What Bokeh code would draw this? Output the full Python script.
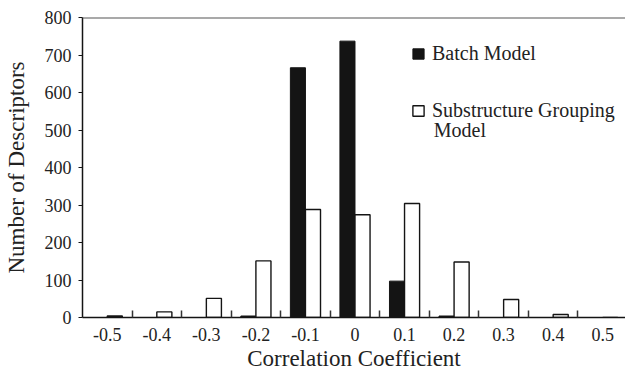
import numpy as np
from bokeh.plotting import figure
from bokeh.models import (ColumnDataSource, Range1d, FixedTicker, Legend, LegendItem,
                          Span, Label)
from bokeh.transform import dodge
from bokeh.embed import file_html
from bokeh.resources import INLINE

# ---- data ----
coefficients = [-0.5, -0.4, -0.3, -0.2, -0.1, 0.0, 0.1, 0.2, 0.3, 0.4, 0.5]
tick_labels = ["-0.5", "-0.4", "-0.3", "-0.2", "-0.1", "0", "0.1", "0.2", "0.3", "0.4", "0.5"]
batch_model = [0, 0, 0, 4, 666, 737, 97, 4, 0, 0, 0]
substructure_model = [4, 15, 51, 151, 288, 274, 304, 148, 48, 8, 0]
y_ticks = [0, 100, 200, 300, 400, 500, 600, 700, 800]

FONT = "Liberation Serif"
INK = "#141414"

src = ColumnDataSource(dict(x=coefficients, batch=batch_model, sub=substructure_model))

p = figure(width=625, height=373, output_backend="svg", toolbar_location=None,
           x_range=Range1d(-0.55, 0.546), y_range=Range1d(0, 800),
           min_border_left=77, min_border_right=0, min_border_top=17, min_border_bottom=55)
p.outline_line_color = None
p.grid.visible = False
p.background_fill_color = "white"
p.border_fill_color = "white"

bar_w = 0.0304
r_batch = p.vbar(x=dodge("x", -bar_w / 2, range=p.x_range), top="batch", width=bar_w, source=src,
                 fill_color=INK, line_color=INK, line_width=1)
r_sub = p.vbar(x=dodge("x", bar_w / 2, range=p.x_range), top="sub", width=bar_w, source=src,
               fill_color="white", line_color=INK, line_width=1.4)

p.add_layout(Span(location=y_ticks[-1], dimension="width", line_color="#555555", line_width=2))

c = np.array(coefficients)
boundaries = list(np.round(np.concatenate([(c[:-1] + c[1:]) / 2, [c[-1] + (c[-1] - c[-2]) / 2]]), 3))
xa = p.xaxis[0]
xa.ticker = FixedTicker(ticks=coefficients, minor_ticks=boundaries)
xa.major_label_overrides = {v: t for v, t in zip(coefficients, tick_labels)}
xa.major_tick_in = 0
xa.major_tick_out = 0
xa.minor_tick_in = 7
xa.minor_tick_out = 0
xa.minor_tick_line_color = "#333333"
xa.minor_tick_line_width = 1.5
xa.axis_line_color = INK
xa.axis_line_width = 1.5
xa.major_label_text_font = FONT
xa.major_label_text_font_size = "18px"
xa.major_label_text_color = "#222222"
xa.major_label_standoff = 10
xa.axis_label = "Correlation Coefficient"
xa.axis_label_text_font = FONT
xa.axis_label_text_font_size = "23px"
xa.axis_label_text_font_style = "normal"
xa.axis_label_text_color = "#222222"
xa.axis_label_standoff = 2

ya = p.yaxis[0]
ya.ticker = FixedTicker(ticks=y_ticks)
ya.major_tick_in = 0
ya.major_tick_out = 4
ya.minor_tick_line_color = None
ya.axis_line_color = INK
ya.axis_line_width = 1.5
ya.major_tick_line_color = INK
ya.major_tick_line_width = 1.2
ya.major_label_text_font = FONT
ya.major_label_text_font_size = "18px"
ya.major_label_text_color = "#222222"
ya.major_label_standoff = 7
ya.axis_label = "Number of Descriptors"
ya.axis_label_text_font = FONT
ya.axis_label_text_font_size = "23px"
ya.axis_label_text_font_style = "normal"
ya.axis_label_text_color = "#222222"
ya.axis_label_standoff = 13

legend = Legend(items=[LegendItem(label="Batch Model", renderers=[r_batch]),
                       LegendItem(label="Substructure Grouping", renderers=[r_sub])],
                location=(329, 195), padding=0, margin=0, spacing=34,
                border_line_color=None, background_fill_alpha=0,
                glyph_width=14, glyph_height=13, label_standoff=7,
                label_text_font=FONT,
                label_text_font_size="20px", label_text_color="#222222")
p.add_layout(legend)

p.add_layout(Label(x=0.159, y=500, text="Model", text_font=FONT,
                   text_font_size="20px", text_color="#222222", text_baseline="alphabetic"))

open("out.html", "w").write(file_html(p, INLINE))
